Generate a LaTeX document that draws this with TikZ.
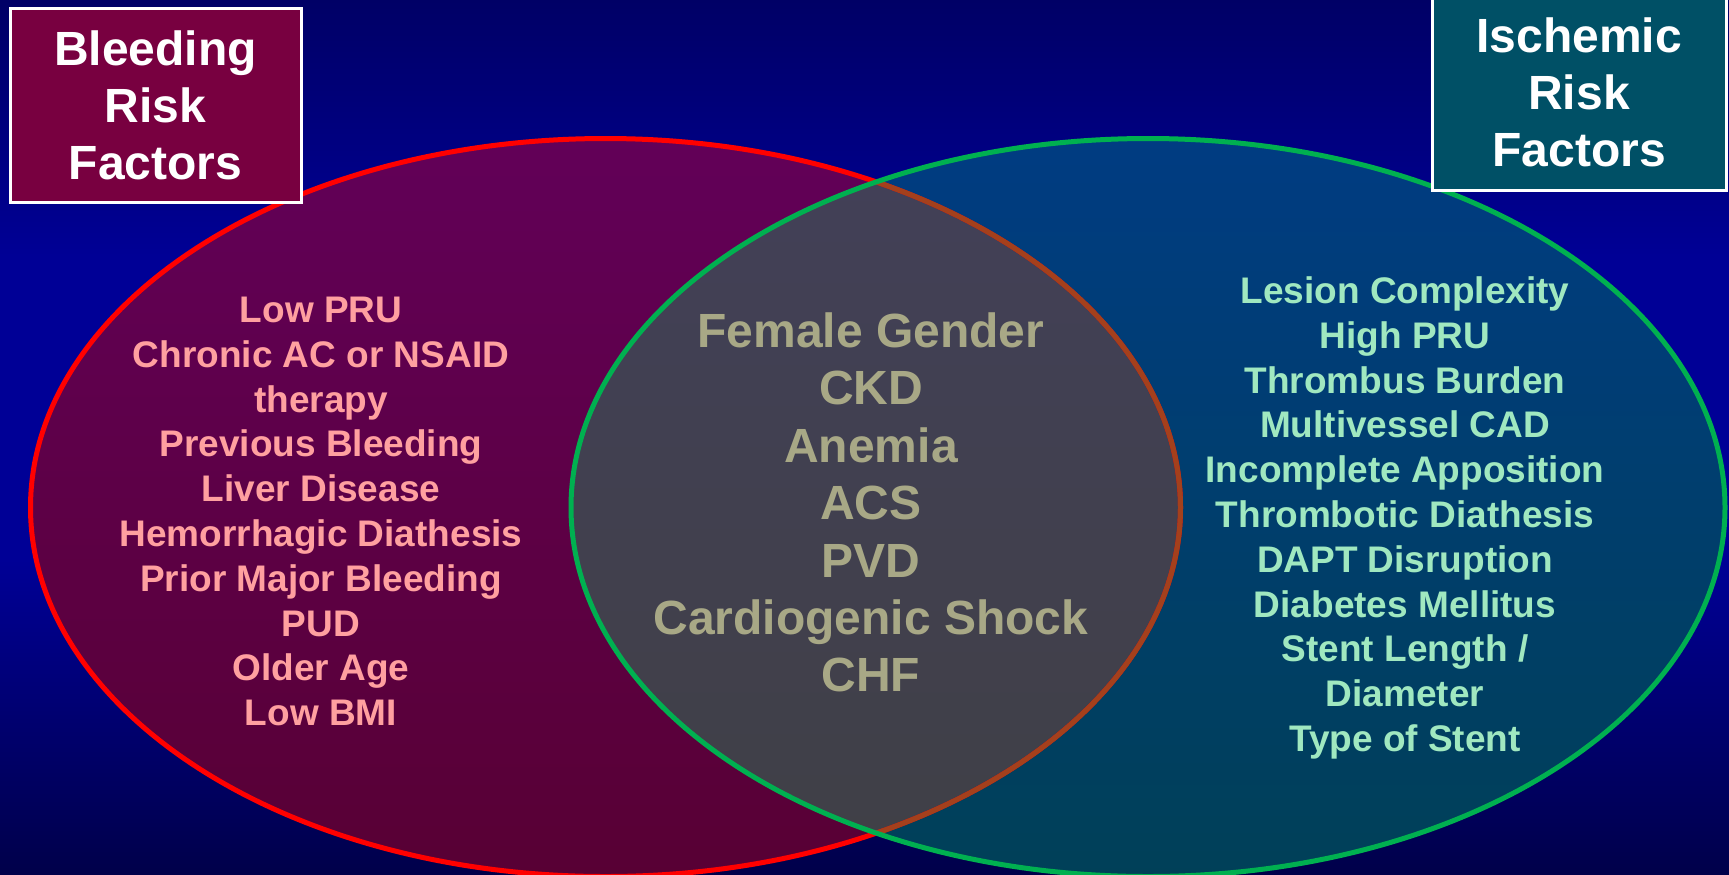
\documentclass[tikz,border=0pt]{standalone}
\usepackage{fontspec}
\setmainfont{Liberation Sans}
\definecolor{bgtop}{HTML}{000066}
\definecolor{bgmid}{HTML}{000096}
\definecolor{bgbot}{HTML}{00004A}
\definecolor{bleedtop}{HTML}{620058}
\definecolor{bleedbot}{HTML}{580034}
\definecolor{ischtop}{HTML}{003C82}
\definecolor{ischbot}{HTML}{004058}
\definecolor{sharedtop}{HTML}{424058}
\definecolor{sharedbot}{HTML}{404046}
\definecolor{bleedline}{HTML}{FF0000}
\definecolor{ischline}{HTML}{00B050}
\definecolor{hiddenline}{HTML}{A4401C}
\definecolor{bleedboxfill}{HTML}{780040}
\definecolor{ischboxfill}{HTML}{005066}
\definecolor{bleedtext}{HTML}{FFA0A0}
\definecolor{sharedtext}{HTML}{A8A886}
\definecolor{ischtext}{HTML}{A0E8C0}
\pgfdeclareverticalshading{slidebg}{100bp}{color(0bp)=(bgbot); color(25bp)=(bgbot);
  color(43bp)=(bgmid); color(60bp)=(bgmid); color(75bp)=(bgtop); color(100bp)=(bgtop)}
\tikzset{
  riskbox/.style={draw=white, line width=1.5pt, text=white, align=center, inner sep=0pt,
    font=\bfseries\fontsize{24pt}{28.5pt}\selectfont},
  factorlist/.style={align=center, inner sep=0pt, font=\bfseries\fontsize{18.5pt}{22.4pt}\selectfont},
  venn/.style={line width=2.5pt},
}
\begin{document}
\begin{tikzpicture}[x=0.5pt,y=-0.5pt]
\useasboundingbox (0,0) rectangle (1729,874);
\shade[shading=slidebg] (0,0) rectangle (1729,874);
\coordinate (bleedc) at (605.5,507.5);
\coordinate (ischc) at (1148,507.5);
\shade[top color=bleedtop, bottom color=bleedbot] (bleedc) ellipse [x radius=287.5pt, y radius=184.5pt];
\shade[top color=ischtop, bottom color=ischbot] (ischc) ellipse [x radius=288.5pt, y radius=184.5pt];
\begin{scope}
  \clip (bleedc) ellipse [x radius=287.5pt, y radius=184.5pt];
  \shade[top color=sharedtop, bottom color=sharedbot] (ischc) ellipse [x radius=288.5pt, y radius=184.5pt];
\end{scope}
\draw[venn, bleedline] (bleedc) ellipse [x radius=287.5pt, y radius=184.5pt];
\begin{scope}
  \clip (ischc) ellipse [x radius=288.5pt, y radius=184.5pt];
  \draw[venn, hiddenline] (bleedc) ellipse [x radius=287.5pt, y radius=184.5pt];
\end{scope}
\draw[venn, ischline] (ischc) ellipse [x radius=288.5pt, y radius=184.5pt];

\node[riskbox, fill=bleedboxfill, minimum width=145.5pt, minimum height=97pt] (bleedbox) at (155.5,105)
  {Bleeding\\Risk\\Factors};
\node[riskbox, fill=ischboxfill, minimum width=147pt, minimum height=98pt] (ischbox) at (1579,92.5)
  {Ischemic\\Risk\\Factors};

\node[factorlist, text=bleedtext] (bleedlist) at (321,511.5)
  {Low PRU\\Chronic AC or NSAID\\therapy\\Previous Bleeding\\Liver Disease\\Hemorrhagic Diathesis\\
   Prior Major Bleeding\\PUD\\Older Age\\Low BMI};
\node[factorlist, text=sharedtext, font=\bfseries\fontsize{24pt}{28.7pt}\selectfont] (sharedlist) at (871,502.5)
  {Female Gender\\CKD\\Anemia\\ACS\\PVD\\Cardiogenic Shock\\CHF};
\node[factorlist, text=ischtext] (ischlist) at (1405,518)
  {Lesion Complexity\\High PRU\\Thrombus Burden\\Multivessel CAD\\Incomplete Apposition\\
   Thrombotic Diathesis\\DAPT Disruption\\Diabetes Mellitus\\Stent Length /\\Diameter\\Type of Stent};
\end{tikzpicture}
\end{document}
